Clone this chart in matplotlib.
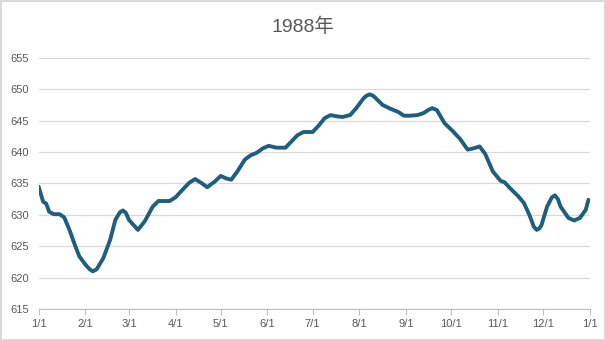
import datetime as dt

import matplotlib
matplotlib.use("Agg")
import matplotlib.pyplot as plt
import matplotlib.dates as mdates

plt.rcParams['font.family'] = ['Liberation Sans', 'Noto Sans CJK SC', 'DejaVu Sans']

# day of year (0 = 1/1) and value
days = [0, 3, 5, 7, 10, 14, 17, 20.5, 24.4, 27, 31, 34, 36, 38.5, 43, 47.5, 51,
        54, 56, 58, 60, 66, 70.6, 75.8, 79.6, 87, 91, 96, 100, 104, 108, 112,
        117, 121, 124.6, 128, 132, 137, 141, 145, 149, 152.8, 158, 164, 168,
        172, 176, 182, 186, 190, 194, 198, 202, 207, 211, 216, 218, 220, 222,
        223.5, 228.6, 233.8, 238.9, 242.7, 246.6, 251.7, 255.6, 259.5, 261.5,
        264.6, 269.7, 274.9, 280, 285, 289, 293, 296.7, 301.8, 307, 309.5,
        313.4, 318.5, 322.4, 326.2, 329, 330.9, 332.5, 334, 337.8, 341, 343,
        345, 346.8, 352, 355.8, 359.6, 363.5, 365.3]
values = [634.5, 632.1, 631.8, 630.5, 630.1, 630.1, 629.6, 627.6, 625.0, 623.4,
          622.1, 621.3, 621.0, 621.3, 623.1, 626.0, 629.2, 630.4, 630.7, 630.3,
          629.2, 627.6, 629.0, 631.3, 632.2, 632.2, 632.8, 634.1, 635.1, 635.7,
          635.1, 634.4, 635.3, 636.2, 635.8, 635.6, 636.9, 638.8, 639.5, 639.9,
          640.6, 641.0, 640.7, 640.7, 641.7, 642.7, 643.2, 643.2, 644.2, 645.4,
          645.9, 645.7, 645.6, 645.9, 647.0, 648.6, 649.0, 649.2, 649.0, 648.7,
          647.5, 646.9, 646.4, 645.8, 645.8, 645.9, 646.2, 646.8, 647.0, 646.7,
          644.6, 643.4, 642.1, 640.4, 640.6, 640.9, 639.7, 636.9, 635.4, 635.2,
          634.2, 633.0, 631.9, 629.9, 628.1, 627.6, 627.8, 628.3, 631.3, 632.8,
          633.1, 632.5, 631.3, 629.5, 629.1, 629.5, 630.8, 632.4]

title = "1988年"
y_ticks = [615, 620, 625, 630, 635, 640, 645, 650, 655]

start = dt.datetime(1988, 1, 1)
dates = [start + dt.timedelta(days=d) for d in days]
month_ticks = [dt.datetime(1988, m, 1) for m in range(1, 13)] + [dt.datetime(1989, 1, 1)]

fig = plt.figure(figsize=(6.06, 3.41), dpi=100)
fig.patch.set_edgecolor('#d9d9d9')
fig.patch.set_linewidth(1.5)
ax = fig.add_axes([0.0637, 0.094, 0.9091, 0.736])

ax.plot(dates, values, color='#1d5f7f', lw=2.8, solid_joinstyle='round',
        solid_capstyle='round', zorder=3)

ax.set_xlim(month_ticks[0], month_ticks[-1])
ax.set_ylim(615, 655)
ax.set_yticks(y_ticks)
ax.set_xticks(month_ticks)
ax.xaxis.set_major_formatter(mdates.DateFormatter('%-m/%-d'))

ax.grid(axis='y', color='#d9d9d9', lw=0.9)
ax.grid(axis='x', visible=False)
for s in ['top', 'right', 'left']:
    ax.spines[s].set_visible(False)
ax.spines['bottom'].set_color('#bfbfbf')
ax.tick_params(axis='y', length=0, labelsize=8, labelcolor='#595959', pad=7)
ax.tick_params(axis='x', length=4, color='#bfbfbf', labelsize=8,
               labelcolor='#595959', pad=3)

fig.text(0.5, 0.92, title, ha='center', va='center', fontsize=14, color='#595959')

fig.savefig('out.png', dpi=100)
